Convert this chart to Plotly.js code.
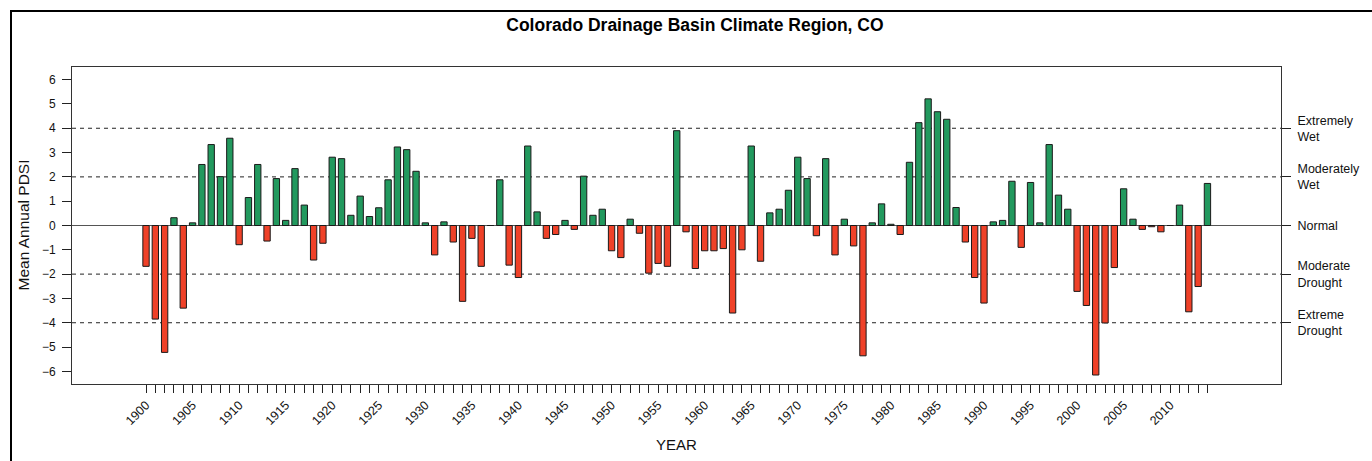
<!DOCTYPE html>
<html>
<head>
<meta charset="utf-8">
<script src="https://cdn.plot.ly/plotly-3.0.1.min.js"></script>
<style>
  html, body { margin: 0; padding: 0; background: #fff; overflow: hidden; }
  #chart { width: 1372px; height: 461px; }
  #frame { position: absolute; left: 10px; top: 10px; width: 1400px; height: 500px;
           border: 2px solid #000; pointer-events: none; box-sizing: border-box; }
</style>
</head>
<body>
<div id="chart"></div>
<div id="frame"></div>
<script>
const years = [];
for (let y = 1900; y <= 2014; y++) years.push(y);

const pdsi = [
  -1.68, -3.85, -5.22, 0.32, -3.40, 0.11, 2.51, 3.33, 2.01, 3.59,
  -0.79, 1.15, 2.51, -0.64, 1.93, 0.21, 2.34, 0.84, -1.42, -0.73,
  2.81, 2.75, 0.42, 1.21, 0.37, 0.73, 1.88, 3.23, 3.12, 2.23,
  0.11, -1.21, 0.15, -0.68, -3.12, -0.53, -1.68, 0.00, 1.88, -1.63,
  -2.14, 3.27, 0.56, -0.53, -0.37, 0.21, -0.16, 2.03, 0.42, 0.67,
  -1.04, -1.32, 0.26, -0.32, -1.96, -1.56, -1.68, 3.90, -0.26, -1.77,
  -1.04, -1.04, -0.95, -3.60, -1.00, 3.27, -1.47, 0.52, 0.67, 1.45,
  2.81, 1.93, -0.42, 2.75, -1.21, 0.26, -0.84, -5.36, 0.11, 0.89,
  0.05, -0.37, 2.60, 4.23, 5.21, 4.68, 4.37, 0.74, -0.68, -2.14,
  -3.19, 0.15, 0.21, 1.82, -0.90, 1.77, 0.11, 3.33, 1.25, 0.67,
  -2.71, -3.29, -6.15, -4.01, -1.73, 1.51, 0.26, -0.16, -0.05, -0.26,
  0.00, 0.84, -3.55, -2.51, 1.73
];

const yTicks = [-6, -5, -4, -3, -2, -1, 0, 1, 2, 3, 4, 5, 6];
const classValues = [4, 2, 0, -2, -4];
const classLabels = ["Extremely<br>Wet", "Moderately<br>Wet", "Normal", "Moderate<br>Drought", "Extreme<br>Drought"];
const dashedLevels = [4, 2, -2, -4];

const xTickText = years.map(y => (y % 5 === 0 && y <= 2010) ? String(y) : "");
const barColors = pdsi.map(v => v >= 0 ? "#22995e" : "#ef4128");

const font = "Liberation Sans, Arial, Helvetica, sans-serif";

const traces = [
  {
    type: "bar",
    x: years,
    y: pdsi,
    width: 0.68,
    marker: { color: barColors, line: { color: "#1a1a1a", width: 1 } },
    hoverinfo: "x+y",
    showlegend: false
  },
  {
    type: "scatter",
    mode: "markers",
    x: [years[0]],
    y: [0],
    yaxis: "y2",
    marker: { opacity: 0, size: 1 },
    hoverinfo: "skip",
    showlegend: false
  }
];

const shapes = dashedLevels.map(v => ({
  type: "line", xref: "paper", x0: 0, x1: 1, yref: "y", y0: v, y1: v,
  line: { color: "#222", width: 1, dash: "4px,4px" }, layer: "below"
}));

const layout = {
  width: 1372,
  height: 461,
  paper_bgcolor: "#fff",
  plot_bgcolor: "#fff",
  margin: { l: 72, r: 91, t: 67, b: 77 },
  bargap: 0,
  font: { family: font, color: "#111", size: 11 },
  title: {
    text: "<b>Colorado Drainage Basin Climate Region, CO</b>",
    font: { family: font, size: 17.5, color: "#000" },
    xref: "container", x: 0.5065, xanchor: "center",
    yref: "container", y: 0.945, yanchor: "middle"
  },
  xaxis: {
    range: [1892.05, 2021.9],
    tickmode: "array",
    tickvals: years,
    ticktext: xTickText,
    tickangle: -45,
    ticks: "outside",
    ticklen: 8,
    tickwidth: 1,
    tickcolor: "#222",
    tickfont: { family: font, size: 12.5, color: "#111" },
    showline: true,
    linecolor: "#333",
    linewidth: 1,
    mirror: true,
    showgrid: false,
    zeroline: false,
    fixedrange: true
  },
  yaxis: {
    range: [-6.52, 6.52],
    tickmode: "array",
    tickvals: yTicks,
    ticks: "outside",
    ticklen: 9,
    tickwidth: 1,
    tickcolor: "#222",
    ticklabelstandoff: 4,
    tickfont: { family: font, size: 12, color: "#111" },
    showline: true,
    linecolor: "#333",
    linewidth: 1,
    mirror: true,
    showgrid: false,
    zeroline: true,
    zerolinecolor: "#555",
    zerolinewidth: 1.5,
    fixedrange: true
  },
  yaxis2: {
    overlaying: "y",
    side: "right",
    range: [-6.52, 6.52],
    tickmode: "array",
    tickvals: classValues,
    ticktext: classLabels,
    ticks: "outside",
    ticklen: 9,
    tickwidth: 1,
    tickcolor: "#222",
    ticklabelstandoff: 4,
    tickfont: { family: font, size: 12.5, color: "#111" },
    showline: true,
    linecolor: "#333",
    showgrid: false,
    zeroline: false,
    fixedrange: true
  },
  shapes: shapes,
  annotations: [
    {
      text: "YEAR", xref: "paper", yref: "paper", x: 0.5, y: 0,
      yshift: -60, xanchor: "center", yanchor: "middle", showarrow: false,
      font: { family: font, size: 15, color: "#111" }
    },
    {
      text: "Mean Annual PDSI", xref: "paper", yref: "paper", x: 0, y: 0.5,
      xshift: -49, xanchor: "center", yanchor: "middle", textangle: -90, showarrow: false,
      font: { family: font, size: 15.5, color: "#111" }
    }
  ]
};

Plotly.newPlot("chart", traces, layout, { displayModeBar: false, staticPlot: true });
</script>
</body>
</html>
